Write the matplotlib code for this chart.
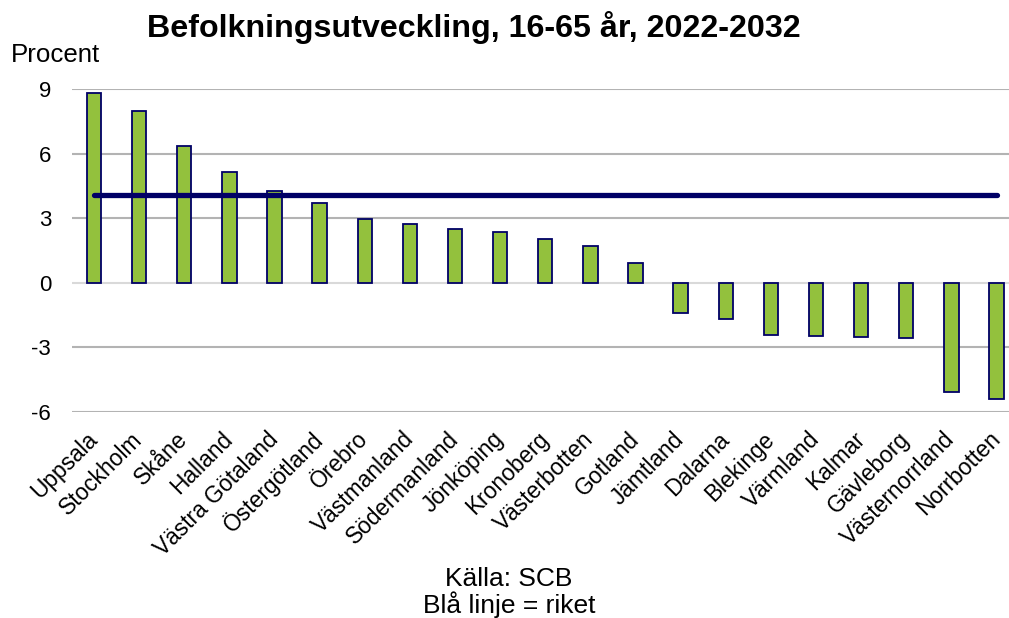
import matplotlib
matplotlib.use("Agg")
import matplotlib.pyplot as plt

categories = ["Uppsala", "Stockholm", "Skåne", "Halland", "Västra Götaland", "Östergötland",
              "Örebro", "Västmanland", "Södermanland", "Jönköping", "Kronoberg", "Västerbotten",
              "Gotland", "Jämtland", "Dalarna", "Blekinge", "Värmland", "Kalmar", "Gävleborg",
              "Västernorrland", "Norrbotten"]
values = [8.80, 7.99, 6.37, 5.13, 4.28, 3.72, 2.97, 2.74, 2.52, 2.35, 2.04, 1.70, 0.94,
          -1.41, -1.66, -2.43, -2.49, -2.52, -2.58, -5.06, -5.38]
riket = 4.09
yticks = [-6, -3, 0, 3, 6, 9]

plt.rcParams['font.family'] = ['Liberation Sans', 'DejaVu Sans']

W, H = 1009, 618
fig = plt.figure(figsize=(W / 100, H / 100), dpi=100)
ax = fig.add_axes([72 / W, 1 - 412 / H, (W - 72) / W, (412 - 89) / H])

x = list(range(len(categories)))
ax.bar(x, values, width=0.32, color='#93C13D', edgecolor='#000066', linewidth=1.3, zorder=3)
ax.plot([x[0], x[-1]], [riket, riket], color='#000066', linewidth=3.8,
        solid_capstyle='round', zorder=4)

ax.set_ylim(-6, 9)
ax.set_xlim(-0.4875, 20.277)
ax.set_yticks(yticks)
ax.set_yticklabels([str(t) for t in yticks], fontsize=16)
for t in yticks:
    ax.axhline(t, color='#D9D9D9' if t == 0 else '#B3B3B3', linewidth=1.5, zorder=1)
ax.tick_params(axis='y', length=0, pad=15)
ax.tick_params(axis='x', length=0, pad=17)
ax.set_xticks(x)
ax.set_xticklabels(categories, rotation=45, ha='right', va='center',
                   rotation_mode='anchor', fontsize=16.4)
for s in ax.spines.values():
    s.set_visible(False)

fig.text(474 / W, 1 - 37 / H, "Befolkningsutveckling, 16-65 år, 2022-2032",
         ha='center', va='baseline', fontsize=23.2, fontweight='bold')
fig.text(11 / W, 1 - 62 / H, "Procent", ha='left', va='baseline', fontsize=18.6)
fig.text(509 / W, 1 - 586 / H, "Källa: SCB", ha='center', va='baseline', fontsize=19)
fig.text(509 / W, 1 - 613 / H, "Blå linje = riket", ha='center', va='baseline', fontsize=19)

fig.savefig("out.png", dpi=100)
